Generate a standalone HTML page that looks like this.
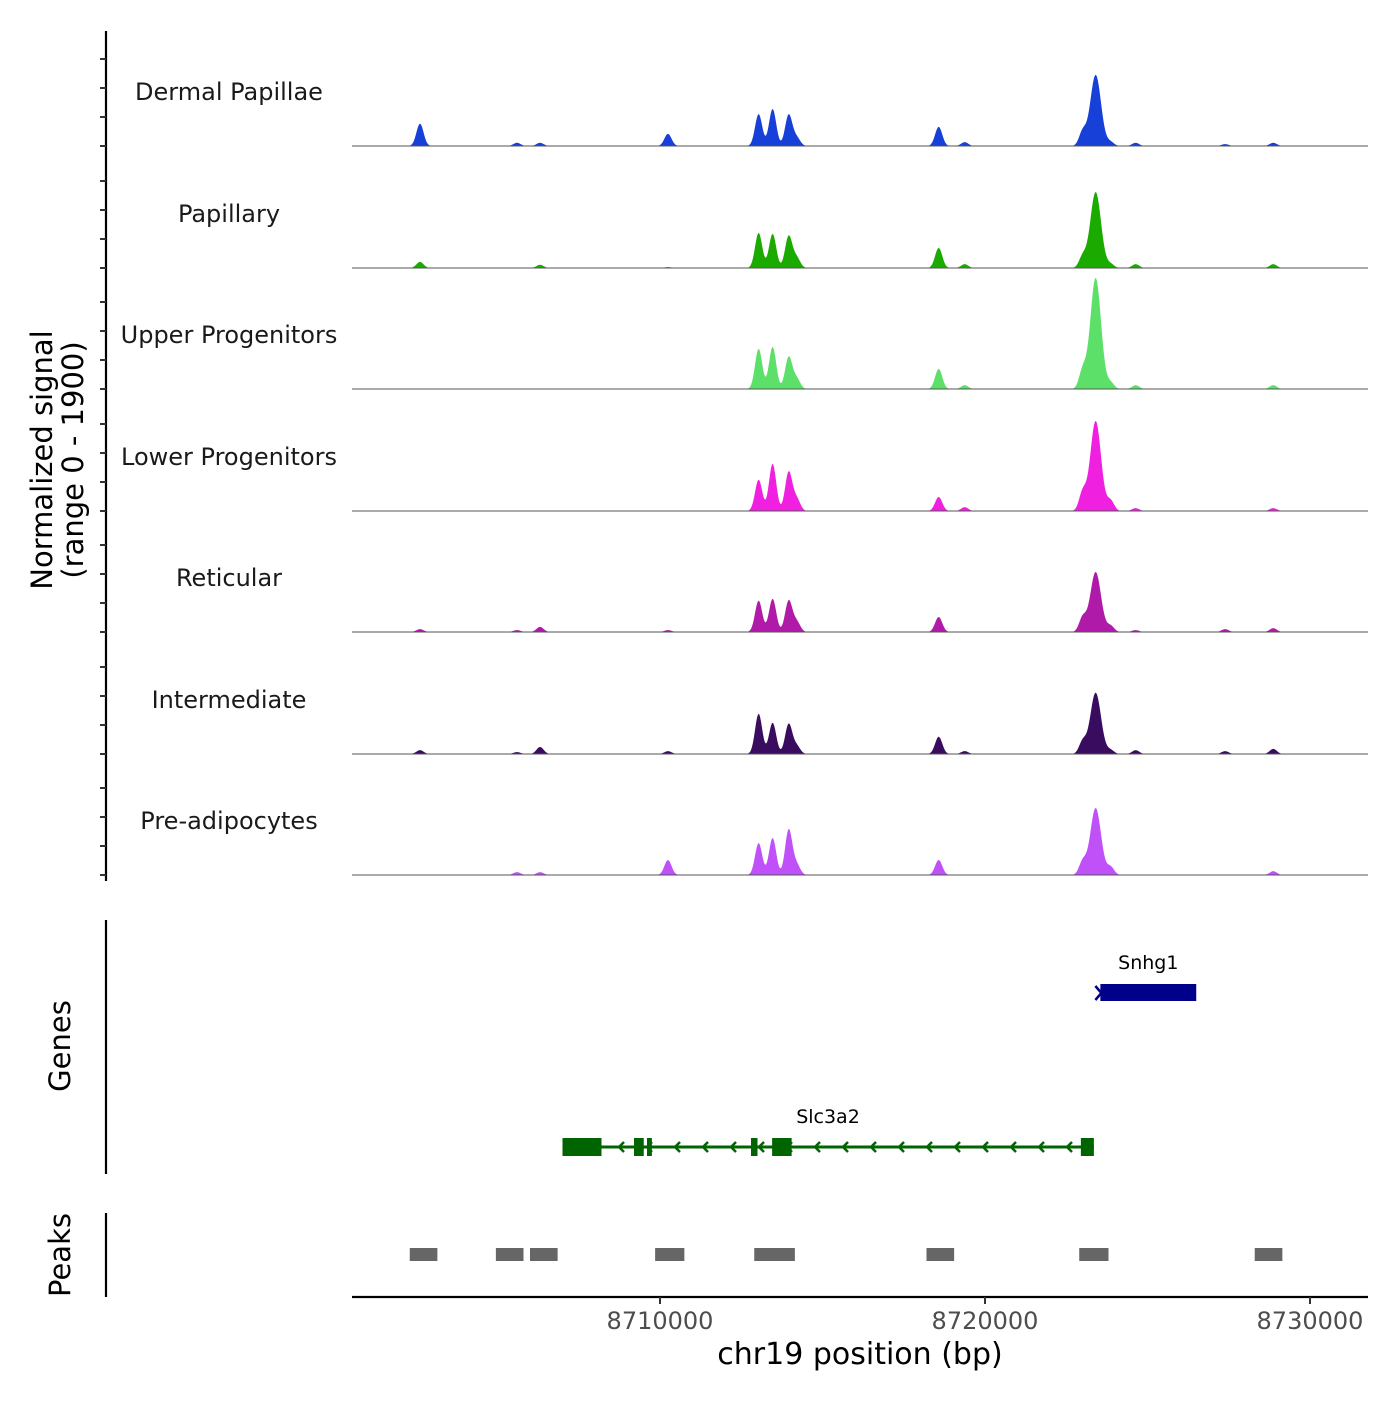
<!DOCTYPE html>
<html><head><meta charset="utf-8"><style>
html,body{margin:0;padding:0;background:#fff}
svg text{font-family:"DejaVu Sans","Liberation Sans",sans-serif}
</style></head><body>
<svg id="chart" width="1400" height="1400" viewBox="0 0 1400 1400" xmlns="http://www.w3.org/2000/svg"></svg>
<script>
// ---- data ----
const cellTypes = ["Dermal Papillae","Papillary","Upper Progenitors","Lower Progenitors","Reticular","Intermediate","Pre-adipocytes"];
const trackColors = ["#1640d8","#1aaa00","#5ce06a","#f020e0","#b01aa8","#3a0c60","#c050f8"];
const peakCenters = [8702615,8705600,8706310,8710245,8713035,8713465,8713960,8714205,8718575,8719375,8723005,8723405,8723865,8724635,8727390,8728870];
const signalDP  = [350,50,50,190,500,580,490,130,300,60,220,1115,60,50,30,50];
const signalPap = [95,0,50,15,550,535,500,160,315,60,175,1190,60,60,0,60];
const signalUP  = [0,0,0,0,630,660,500,160,315,60,285,1740,95,60,0,60];
const signalLP  = [0,0,0,0,490,740,610,190,220,60,285,1410,160,45,0,45];
const signalRet = [45,30,80,30,490,520,490,160,235,0,220,940,95,30,45,60];
const signalInt = [60,30,110,45,630,490,470,125,270,45,190,960,60,60,45,80];
const signalPre = [0,45,45,235,500,580,710,160,235,0,205,1050,125,0,0,60];
const signals = [signalDP,signalPap,signalUP,signalLP,signalRet,signalInt,signalPre];
const xTicks = [8710000,8720000,8730000];
const peakRegions = [[8702300,8703150],[8704950,8705800],[8706000,8706850],[8709850,8710750],[8712900,8714150],[8718200,8719050],[8722900,8723800],[8728300,8729150]];
const snhg1 = [8723550,8726500];
const slc3a2 = [8707000,8723350];
const slcExons = [[8707000,8708200],[8709200,8709500],[8709600,8709750],[8712800,8713000],[8713450,8714050],[8722950,8723350]];
const yMax = 1900;

// ---- scales ----
const X0=352,X1=1368,D0=8700523,D1=8731785;
const xs = v => X0+(v-D0)/(D1-D0)*(X1-X0);
const baselines=[146,268,389,511,632,754,875];
const TH=121.5;
const ys = (v,i) => baselines[i]-v/yMax*TH;

const NS="http://www.w3.org/2000/svg";
const svg=document.getElementById('chart');
function mk(tag,attrs,parent){const e=document.createElementNS(NS,tag);for(const k in attrs)e.setAttribute(k,attrs[k]);(parent||svg).appendChild(e);return e;}

let ax=mk('line',{x1:106,y1:31,x2:106,y2:881,stroke:'#000','stroke-width':2.2});


baselines.forEach((b,i)=>{
  for(let k=0;k<4;k++){
    const t=mk('line',{x1:100,x2:106,y1:b-k*29,y2:b-k*29,stroke:'#333','stroke-width':2});
    
    
  }
});
let yt=mk('text',{x:0,y:0,'font-size':29,'text-anchor':'middle',fill:'#000',transform:'translate(52,460) rotate(-90)'});


mk('tspan',{x:0,dy:0},yt).textContent='Normalized signal';
mk('tspan',{x:0,dy:31},yt).textContent='(range 0 - 1900)';

cellTypes.forEach((name,i)=>{
  const g=mk('g',{});
  
  
  const lbl=mk('text',{x:229,y:baselines[i]-46,'font-size':24,'text-anchor':'middle',fill:'#1a1a1a'},g);
  lbl.textContent=name;
  
  
  let d='M'+X0+','+baselines[i];
  for(let px=X0;px<=X1;px+=1){
    const bp=D0+(px-X0)/(X1-X0)*(D1-D0);
    let v=0;
    peakCenters.forEach((c,j)=>{
      const s=(j===11)?165:110;
      const z=(bp-c)/s;
      v+=signals[i][j]*Math.exp(-0.5*z*z);
    });
    v=Math.min(v,yMax);
    d+=' L'+px+','+ys(v,i).toFixed(2);
  }
  d+=' L'+X1+','+baselines[i]+' Z';
  const p=mk('path',{d:d,fill:trackColors[i],stroke:'none'},g);
  
  
  const bl=mk('line',{x1:X0,x2:X1,y1:baselines[i],y2:baselines[i],stroke:'#555','stroke-width':1},g);
  
  
});

let ga=mk('line',{x1:106,y1:920,x2:106,y2:1174,stroke:'#000','stroke-width':2.2});


let gt=mk('text',{x:0,y:0,'font-size':29,'text-anchor':'middle',transform:'translate(70,1046) rotate(-90)'});
gt.textContent='Genes';



let sg=mk('g',{});


mk('rect',{x:xs(snhg1[0]),y:984,width:xs(snhg1[1])-xs(snhg1[0]),height:17,fill:'#00008b'},sg);
mk('path',{d:`M${xs(snhg1[0])-5},986 L${xs(snhg1[0])+1},993 L${xs(snhg1[0])-5},1000`,stroke:'#00008b','stroke-width':2.5,fill:'none'},sg);
let sl=mk('text',{x:(xs(snhg1[0])+xs(snhg1[1]))/2,y:969,'font-size':19,'text-anchor':'middle'},sg);
sl.textContent='Snhg1';

let cg=mk('g',{});


mk('line',{x1:xs(slc3a2[0]),x2:xs(slc3a2[1]),y1:1147,y2:1147,stroke:'#006400','stroke-width':3},cg);
slcExons.forEach(e=>{mk('rect',{x:xs(e[0]),y:1138,width:Math.max(3,xs(e[1])-xs(e[0])),height:18,fill:'#006400'},cg);});
for(let ax2=620;ax2<1080;ax2+=28){
  mk('path',{d:`M${ax2+4},1142 L${ax2-1},1147 L${ax2+4},1152`,stroke:'#006400','stroke-width':2.5,fill:'none'},cg);
}
let cl=mk('text',{x:828,y:1123,'font-size':19,'text-anchor':'middle'},cg);
cl.textContent='Slc3a2';

let pa=mk('line',{x1:106,y1:1213,x2:106,y2:1297,stroke:'#000','stroke-width':2.2});


let pt=mk('text',{x:0,y:0,'font-size':29,'text-anchor':'middle',transform:'translate(70,1255) rotate(-90)'});
pt.textContent='Peaks';


peakRegions.forEach(r=>{
  const rc=mk('rect',{x:xs(r[0]),y:1248,width:xs(r[1])-xs(r[0]),height:13,fill:'#666'});
  
  
});

let xa=mk('line',{x1:X0,x2:X1,y1:1297,y2:1297,stroke:'#000','stroke-width':2.2});


xTicks.forEach(t=>{
  const tk=mk('line',{x1:xs(t),x2:xs(t),y1:1297,y2:1304,stroke:'#333','stroke-width':2});
  
  
  const tl=mk('text',{x:xs(t),y:1329,'font-size':24,'text-anchor':'middle',fill:'#4d4d4d'});
  tl.textContent=t;
  
  
});
let xt=mk('text',{x:860,y:1364,'font-size':30,'text-anchor':'middle'});
xt.textContent='chr19 position (bp)';


</script>
</body></html>
